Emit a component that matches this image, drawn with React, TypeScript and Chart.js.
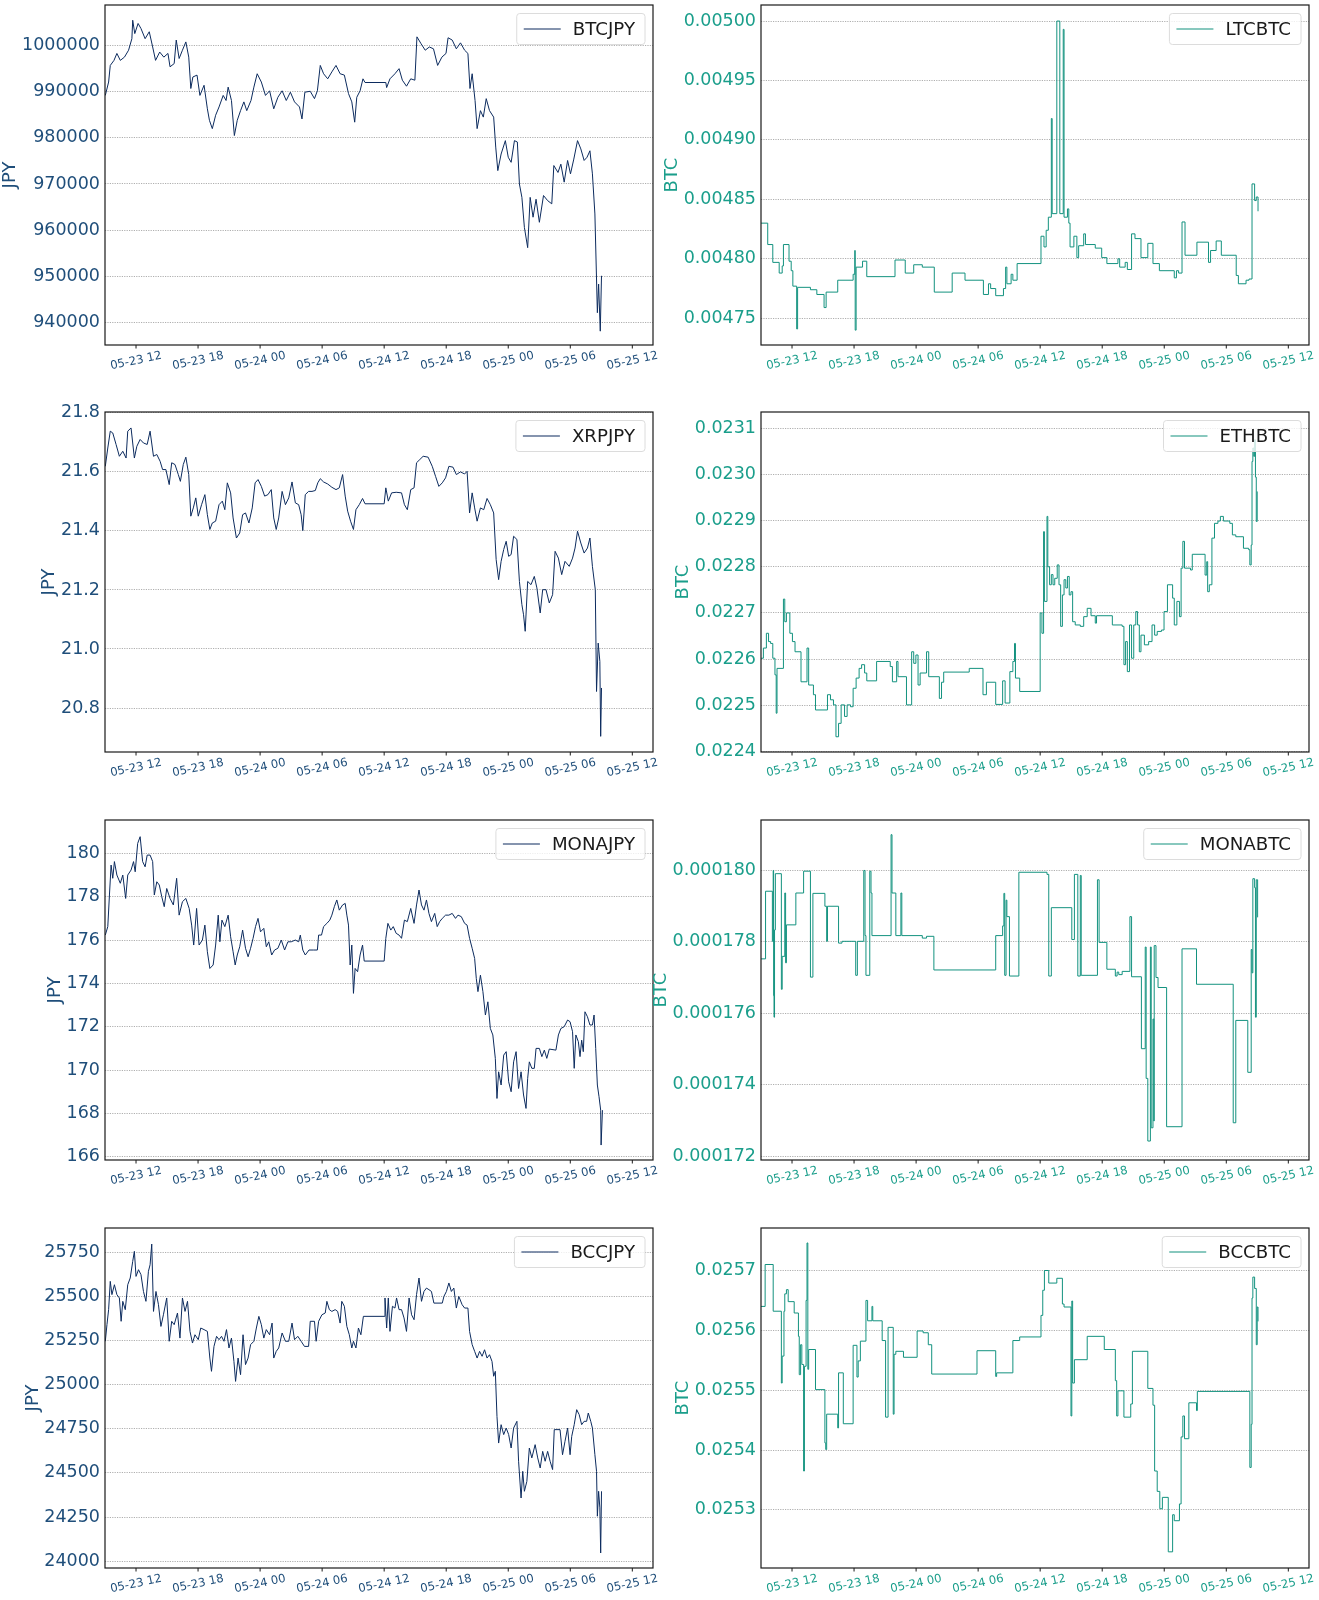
import React, { useEffect, useRef } from "react";
import { Chart, registerables } from "chart.js";

Chart.register(...registerables);

// ---------- shared x axis (hours since 05-23 00:00) ----------
const xTickHours = [12, 18, 24, 30, 36, 42, 48, 54, 60];
const xTickLabels = ["05-23 12", "05-23 18", "05-24 00", "05-24 06", "05-24 12", "05-24 18", "05-25 00", "05-25 06", "05-25 12"];

// ---------- BTCJPY ----------
const btcjpyTime = [9.03,9.35,9.51,9.87,10.15,10.48,10.88,11.28,11.60,11.68,11.88,12.20,12.48,12.88,13.28,13.61,13.89,14.29,14.69,15.09,15.29,15.69,15.89,16.17,16.49,16.82,17.10,17.30,17.50,17.90,18.18,18.58,18.90,19.10,19.38,19.70,20.03,20.43,20.71,20.91,21.23,21.51,21.79,22.11,22.43,22.71,23.12,23.40,23.72,24.12,24.52,24.92,25.32,25.72,26.13,26.53,26.93,27.33,27.81,28.05,28.33,28.85,29.26,29.54,29.82,30.14,30.54,30.94,31.34,31.74,32.15,32.55,32.87,33.15,33.35,33.67,33.95,34.15,36.16,36.24,36.56,37.04,37.44,37.76,38.16,38.57,38.97,39.17,39.57,39.97,40.37,40.77,41.17,41.58,41.98,42.18,42.58,42.98,43.38,43.78,44.10,44.30,44.51,44.79,44.99,45.31,45.59,45.87,46.19,46.59,46.79,46.99,47.31,47.72,48.00,48.28,48.60,48.88,49.08,49.32,49.56,49.88,50.12,50.40,50.69,51.01,51.41,51.81,52.21,52.41,52.81,53.09,53.41,53.74,54.02,54.34,54.70,55.02,55.34,55.62,55.90,56.14,56.38,56.62,56.74,56.90,57.02];
const btcjpyValue = [989200,992100,995700,996800,998300,996800,997500,999000,1001500,1005500,1002600,1004800,1003700,1001500,1003000,999700,996800,998600,997500,998300,995400,996100,1001200,997200,999000,1000800,997500,990700,993200,993600,989200,991400,986300,983800,982000,984900,986700,989200,988100,991000,988100,980500,983800,985900,987800,985900,988100,991000,993900,992100,989200,990200,986300,988800,990200,988100,989900,987800,986700,984100,989900,990100,988500,990200,995700,993900,992800,994300,995700,993900,993600,989600,987800,983400,988800,990200,992800,992000,992000,990900,992800,993900,995000,992500,991200,992800,992500,1001900,1000400,999000,999700,999300,995700,997500,998300,1001700,1001200,999300,1000600,999000,998300,990700,993900,988100,982000,985900,984500,988500,985900,984500,978000,972900,976500,979400,975800,974700,979400,979100,970000,967100,960600,956200,967100,962800,966700,961700,967500,966400,965700,974000,972500,974300,970400,975100,972200,975400,979400,977600,975100,975800,977200,972200,963500,942100,948300,938100,950100];
const btcjpyTicks = [940000, 950000, 960000, 970000, 980000, 990000, 1000000];
const btcjpyTickLabels = ["940000", "950000", "960000", "970000", "980000", "990000", "1000000"];

// ---------- LTCBTC ----------
const ltcbtcTime = [9.00,9.65,10.14,10.76,11.05,11.17,11.71,11.92,12.08,12.45,12.54,13.78,14.40,15.10,15.30,16.42,17.91,18.07,18.11,18.20,18.82,19.23,21.96,22.95,23.77,24.60,25.76,27.49,28.73,30.51,31.00,31.21,31.70,32.45,32.66,32.78,33.19,33.36,33.77,36.08,36.37,36.58,36.79,37.08,37.16,37.61,37.90,38.23,38.31,38.64,38.77,38.89,39.26,39.55,39.72,40.21,40.38,41.33,41.95,42.45,43.52,43.69,44.22,44.43,44.84,45.17,45.75,46.41,46.91,47.53,48.97,49.18,49.39,49.72,50.01,51.16,52.28,52.48,53.02,53.52,54.96,55.17,55.91,56.20,56.49,56.74,56.90,57.07];
const ltcbtcValue = [0.004830,0.004812,0.004797,0.004788,0.004794,0.004812,0.004798,0.004790,0.004777,0.004741,0.004776,0.004774,0.004770,0.004759,0.004772,0.004782,0.004787,0.004807,0.004740,0.004793,0.004798,0.004785,0.004799,0.004788,0.004795,0.004793,0.004772,0.004788,0.004782,0.004770,0.004779,0.004775,0.004769,0.004775,0.004793,0.004779,0.004787,0.004782,0.004796,0.004819,0.004810,0.004824,0.004835,0.004918,0.004838,0.005000,0.004838,0.004993,0.004835,0.004842,0.004830,0.004810,0.004819,0.004801,0.004811,0.004821,0.004812,0.004809,0.004801,0.004796,0.004800,0.004793,0.004797,0.004791,0.004821,0.004817,0.004801,0.004813,0.004796,0.004790,0.004784,0.004790,0.004788,0.004831,0.004803,0.004814,0.004797,0.004807,0.004815,0.004803,0.004786,0.004779,0.004782,0.004783,0.004863,0.004849,0.004852,0.004840];
const ltcbtcTicks = [0.00475, 0.0048, 0.00485, 0.0049, 0.00495, 0.005];
const ltcbtcTickLabels = ["0.00475", "0.00480", "0.00485", "0.00490", "0.00495", "0.00500"];

// ---------- XRPJPY ----------
const xrpjpyTime = [9.03,9.27,9.51,9.75,10.07,10.39,10.72,11.04,11.20,11.52,11.84,12.08,12.40,12.72,13.08,13.36,13.69,14.01,14.33,14.57,14.89,15.21,15.45,15.77,16.09,16.29,16.57,16.82,17.10,17.30,17.54,17.78,18.02,18.34,18.66,18.90,19.14,19.38,19.70,20.03,20.35,20.59,20.83,21.15,21.39,21.71,22.03,22.31,22.59,22.92,23.24,23.52,23.80,24.12,24.44,24.76,25.08,25.32,25.56,25.80,26.13,26.45,26.77,27.09,27.41,27.73,27.97,28.13,28.37,28.69,29.02,29.34,29.58,29.82,30.14,30.54,30.94,31.34,31.66,31.98,32.23,32.47,32.75,33.03,33.27,33.59,33.91,34.15,36.00,36.16,36.40,36.72,37.16,37.68,37.96,38.24,38.57,38.89,39.13,39.45,39.77,40.25,40.65,40.97,41.29,41.62,41.94,42.26,42.66,42.98,43.38,43.78,44.02,44.26,44.51,44.75,44.99,45.31,45.63,45.95,46.27,46.59,46.83,47.07,47.31,47.56,47.80,48.04,48.28,48.52,48.84,49.08,49.32,49.48,49.64,49.88,50.20,50.52,50.77,51.09,51.33,51.65,51.97,52.29,52.53,52.85,53.17,53.49,53.90,54.22,54.46,54.70,55.02,55.34,55.66,55.90,56.14,56.42,56.54,56.70,56.86,56.94,57.02];
const xrpjpyValue = [21.619,21.681,21.738,21.732,21.693,21.653,21.670,21.647,21.738,21.749,21.647,21.687,21.710,21.698,21.693,21.738,21.653,21.659,21.636,21.608,21.608,21.557,21.631,21.625,21.591,21.568,21.625,21.650,21.591,21.450,21.478,21.512,21.450,21.489,21.523,21.455,21.405,21.427,21.433,21.489,21.501,21.472,21.563,21.529,21.444,21.376,21.393,21.455,21.461,21.427,21.478,21.563,21.574,21.551,21.518,21.523,21.540,21.444,21.405,21.444,21.534,21.489,21.512,21.566,21.495,21.489,21.455,21.401,21.523,21.534,21.534,21.537,21.563,21.577,21.566,21.559,21.548,21.540,21.546,21.591,21.518,21.467,21.433,21.405,21.472,21.489,21.510,21.492,21.492,21.546,21.501,21.529,21.531,21.529,21.489,21.472,21.540,21.546,21.631,21.642,21.653,21.650,21.619,21.585,21.551,21.563,21.580,21.619,21.616,21.591,21.600,21.593,21.602,21.461,21.529,21.478,21.433,21.478,21.472,21.510,21.489,21.461,21.303,21.235,21.297,21.337,21.365,21.314,21.320,21.382,21.371,21.229,21.150,21.116,21.060,21.229,21.218,21.246,21.207,21.122,21.201,21.201,21.156,21.184,21.331,21.308,21.252,21.297,21.280,21.308,21.342,21.399,21.359,21.325,21.342,21.376,21.280,21.201,20.856,21.020,20.958,20.704,20.868];
const xrpjpyTicks = [20.8, 21.0, 21.2, 21.4, 21.6, 21.8];
const xrpjpyTickLabels = ["20.8", "21.0", "21.2", "21.4", "21.6", "21.8"];

// ---------- ETHBTC ----------
const ethbtcTime = [9.00,9.23,9.52,9.73,9.93,10.14,10.35,10.47,10.55,11.17,11.30,11.46,11.79,12.04,12.29,12.87,13.45,13.61,14.07,14.27,15.43,15.72,16.01,16.25,16.50,16.75,17.08,17.33,17.66,17.91,18.20,18.49,18.73,19.02,19.23,20.18,21.50,21.71,22.12,22.25,23.07,23.57,23.77,23.98,24.19,24.39,25.01,25.22,26.25,26.46,26.67,29.14,30.47,30.80,31.70,32.37,32.61,33.07,33.36,33.52,33.61,34.02,36.00,36.17,36.33,36.41,36.66,36.74,36.91,37.08,37.24,37.41,37.65,37.82,37.98,38.15,38.31,38.48,38.64,38.81,38.98,39.14,39.39,39.88,40.21,40.55,40.92,41.33,41.45,42.98,43.93,44.10,44.26,44.43,44.64,44.84,45.05,45.25,45.42,45.59,45.75,46.08,46.49,46.82,47.07,47.32,47.73,47.98,48.31,48.81,48.97,49.22,49.47,49.63,49.80,49.96,50.54,50.71,51.95,52.11,52.20,52.36,52.61,52.86,53.19,53.43,53.72,54.34,54.59,54.92,55.66,56.16,56.28,56.41,56.49,56.57,56.66,56.74,56.82,56.90,56.99];
const ethbtcValue = [0.022602,0.022624,0.022656,0.022638,0.022634,0.022602,0.022566,0.022483,0.022580,0.022730,0.022681,0.022700,0.022656,0.022638,0.022616,0.022551,0.022624,0.022544,0.022523,0.022490,0.022523,0.022512,0.022501,0.022432,0.022461,0.022501,0.022476,0.022501,0.022497,0.022537,0.022559,0.022580,0.022588,0.022570,0.022553,0.022595,0.022584,0.022551,0.022595,0.022562,0.022501,0.022616,0.022591,0.022609,0.022544,0.022570,0.022616,0.022562,0.022515,0.022550,0.022572,0.022580,0.022523,0.022550,0.022502,0.022553,0.022505,0.022573,0.022595,0.022634,0.022559,0.022530,0.022700,0.022656,0.022876,0.022725,0.022909,0.022800,0.022761,0.022783,0.022761,0.022775,0.022804,0.022761,0.022671,0.022739,0.022772,0.022754,0.022779,0.022739,0.022746,0.022681,0.022674,0.022671,0.022692,0.022710,0.022694,0.022678,0.022694,0.022674,0.022671,0.022588,0.022638,0.022573,0.022674,0.022602,0.022674,0.022703,0.022674,0.022616,0.022652,0.022631,0.022638,0.022674,0.022652,0.022660,0.022663,0.022703,0.022761,0.022732,0.022674,0.022725,0.022692,0.022797,0.022855,0.022797,0.022793,0.022827,0.022782,0.022811,0.022746,0.022761,0.022862,0.022894,0.022899,0.022909,0.022899,0.022894,0.022869,0.022865,0.022840,0.022837,0.022804,0.022847,0.023028,0.023057,0.023039,0.023075,0.022994,0.022898,0.022963];
const ethbtcTicks = [0.0224, 0.0225, 0.0226, 0.0227, 0.0228, 0.0229, 0.023, 0.0231];
const ethbtcTickLabels = ["0.0224", "0.0225", "0.0226", "0.0227", "0.0228", "0.0229", "0.0230", "0.0231"];

// ---------- MONAJPY ----------
const monajpyTime = [9.03,9.27,9.43,9.59,9.75,9.91,10.15,10.48,10.72,11.00,11.20,11.52,11.76,11.92,12.16,12.40,12.64,12.88,13.08,13.36,13.61,13.77,14.01,14.25,14.49,14.73,14.97,15.29,15.61,15.93,16.17,16.49,16.82,17.14,17.38,17.58,17.86,18.10,18.42,18.66,18.90,19.14,19.46,19.70,19.95,20.11,20.31,20.59,20.91,21.15,21.39,21.59,21.79,22.03,22.31,22.59,22.84,23.08,23.32,23.56,23.80,24.04,24.36,24.60,24.84,25.12,25.40,25.72,26.05,26.37,26.69,27.01,27.41,27.73,27.89,28.13,28.37,28.73,29.14,29.54,29.66,29.94,30.14,30.46,30.74,30.94,31.18,31.42,31.66,31.98,32.23,32.39,32.55,32.71,32.87,33.03,33.19,33.43,33.67,33.91,34.07,36.00,36.16,36.36,36.64,36.88,37.16,37.44,37.68,37.96,38.24,38.57,38.89,39.13,39.37,39.61,39.85,40.09,40.33,40.57,40.89,41.13,41.37,41.62,41.94,42.26,42.58,42.90,43.14,43.46,43.78,44.02,44.26,44.51,44.75,44.91,45.07,45.31,45.55,45.79,46.03,46.27,46.51,46.75,46.91,47.07,47.31,47.56,47.80,48.04,48.28,48.52,48.76,49.00,49.24,49.48,49.72,49.88,50.04,50.28,50.52,50.69,51.01,51.25,51.49,51.73,51.97,52.61,52.85,53.09,53.41,53.74,53.98,54.22,54.38,54.54,54.78,54.94,55.10,55.26,55.42,55.66,55.90,56.14,56.30,56.46,56.62,56.78,56.94,56.98,57.11];
const monajpyValue = [176.23,176.62,178.08,179.46,178.85,179.62,179.00,178.62,179.00,177.92,179.00,179.23,179.62,179.15,180.46,180.77,179.62,179.38,179.92,179.92,179.62,178.08,178.69,178.54,178.00,177.54,178.38,177.92,177.62,178.85,177.15,177.77,177.92,177.46,176.69,175.77,177.46,175.77,176.00,176.69,175.46,174.69,174.85,175.77,177.15,175.92,176.92,176.62,177.15,176.15,175.46,174.85,175.31,175.69,176.46,175.62,175.23,175.62,176.08,176.62,177.00,176.38,176.54,175.69,175.92,175.31,175.54,175.62,176.00,175.54,175.92,175.92,176.00,175.92,176.23,175.54,175.31,175.54,175.54,175.54,176.23,176.23,176.62,176.77,176.92,177.15,177.54,177.85,177.38,177.62,177.69,177.15,176.69,174.85,175.77,173.54,174.69,174.54,175.31,175.77,175.03,175.03,176.08,176.77,176.46,176.62,176.31,176.23,176.08,176.92,176.85,177.46,176.77,177.62,178.31,177.62,177.38,177.85,177.23,176.85,177.23,176.62,176.85,177.00,177.15,177.15,177.23,177.00,177.15,177.08,176.77,176.69,176.08,175.62,175.15,174.23,173.62,174.38,173.62,172.54,173.15,171.92,171.62,170.54,168.69,169.92,169.31,170.69,170.85,169.46,169.00,170.38,170.85,169.15,169.92,168.85,168.23,169.62,170.38,170.08,170.08,171.00,171.00,170.62,170.92,170.54,170.97,170.92,171.62,171.92,172.00,172.31,172.23,171.77,170.08,171.62,171.31,170.62,171.38,170.85,172.69,172.46,172.08,172.08,172.54,171.00,169.31,168.77,168.15,166.54,168.15];
const monajpyTicks = [166, 168, 170, 172, 174, 176, 178, 180];
const monajpyTickLabels = ["166", "168", "170", "172", "174", "176", "178", "180"];

// ---------- MONABTC ----------
const monabtcTime = [9.00,9.44,10.10,10.18,10.22,10.26,10.31,10.39,10.97,11.05,11.30,11.38,11.46,12.37,13.12,13.78,14.02,15.18,15.35,15.43,16.50,16.83,18.16,18.32,18.94,19.06,19.15,19.52,19.64,19.73,21.58,21.67,22.04,22.53,22.62,24.60,25.01,25.72,31.70,32.37,32.49,32.57,32.70,32.78,33.03,33.94,36.66,36.83,37.08,39.06,39.31,39.64,39.88,39.97,41.54,41.70,42.45,43.27,43.44,43.60,43.93,44.68,44.84,45.79,46.16,46.25,46.41,46.66,46.74,46.91,46.99,47.03,47.20,47.40,48.23,49.72,51.12,54.67,54.92,56.08,56.41,56.49,56.57,56.74,56.82,56.90,57.03];
const monabtcValue = [0.00017752,0.00017941,0.00017801,0.00017999,0.00017649,0.00017589,0.00017833,0.00017990,0.00017667,0.00017759,0.00017936,0.00017741,0.00017847,0.00017936,0.00017997,0.00017701,0.00017935,0.00017899,0.00017801,0.00017899,0.00017796,0.00017801,0.00017706,0.00017801,0.00017999,0.00017817,0.00017706,0.00017997,0.00017936,0.00017817,0.00018099,0.00017936,0.00017817,0.00017936,0.00017817,0.00017810,0.00017815,0.00017721,0.00017817,0.00017844,0.00017935,0.00017706,0.00017916,0.00017870,0.00017704,0.00017994,0.00017988,0.00017704,0.00017895,0.00017806,0.00017988,0.00017704,0.00017985,0.00017706,0.00017973,0.00017798,0.00017723,0.00017704,0.00017715,0.00017708,0.00017717,0.00017870,0.00017702,0.00017501,0.00017785,0.00017418,0.00017243,0.00017785,0.00017280,0.00017584,0.00017299,0.00017789,0.00017700,0.00017672,0.00017283,0.00017780,0.00017681,0.00017294,0.00017580,0.00017435,0.00017778,0.00017713,0.00017976,0.00017951,0.00017589,0.00017973,0.00017868];
const monabtcTicks = [0.000172, 0.000174, 0.000176, 0.000178, 0.00018];
const monabtcTickLabels = ["0.000172", "0.000174", "0.000176", "0.000178", "0.000180"];

// ---------- BCCJPY ----------
const bccjpyTime = [9.03,9.19,9.35,9.51,9.67,9.91,10.15,10.39,10.56,10.72,10.96,11.20,11.44,11.68,11.84,12.00,12.24,12.48,12.72,12.96,13.20,13.36,13.52,13.69,13.93,14.17,14.41,14.65,14.97,15.21,15.45,15.69,16.01,16.25,16.49,16.74,16.98,17.22,17.46,17.70,18.02,18.26,18.58,18.90,19.14,19.30,19.54,19.79,20.03,20.27,20.51,20.75,20.99,21.23,21.47,21.63,21.87,22.11,22.35,22.59,22.84,23.08,23.40,23.64,23.88,24.12,24.36,24.60,24.92,25.16,25.32,25.56,25.80,26.13,26.45,26.77,27.09,27.33,27.65,27.97,28.29,28.69,28.85,29.26,29.42,29.66,29.98,30.30,30.46,30.70,30.94,31.26,31.50,31.74,31.90,32.15,32.39,32.63,32.87,33.03,33.27,33.51,33.75,33.99,36.00,36.08,36.24,36.40,36.56,36.80,37.04,37.20,37.44,37.68,37.92,38.16,38.41,38.65,38.89,39.13,39.37,39.61,39.85,40.09,40.33,40.57,40.81,41.62,41.78,42.02,42.26,42.50,42.74,42.98,43.22,43.54,43.78,44.10,44.26,44.51,44.75,44.99,45.23,45.47,45.71,45.95,46.19,46.43,46.59,46.75,46.91,47.07,47.31,47.56,47.80,48.04,48.28,48.52,48.84,49.00,49.24,49.40,49.56,49.80,50.04,50.28,50.60,50.85,51.09,51.33,51.57,51.81,52.05,52.29,52.45,53.01,53.25,53.49,53.74,53.98,54.14,54.38,54.62,54.86,55.10,55.34,55.58,55.74,55.98,56.14,56.38,56.54,56.62,56.74,56.86,56.94,57.02];
const bccjpyValue = [25245,25339,25424,25584,25509,25565,25509,25490,25358,25471,25424,25565,25603,25697,25754,25612,25650,25622,25527,25471,25641,25678,25795,25414,25527,25452,25329,25395,25490,25245,25358,25339,25405,25263,25490,25414,25471,25301,25235,25282,25254,25320,25311,25301,25150,25075,25216,25273,25254,25273,25245,25311,25207,25263,25131,25018,25150,25056,25282,25113,25150,25226,25245,25320,25386,25339,25263,25311,25282,25348,25150,25188,25207,25292,25245,25245,25348,25254,25273,25245,25216,25216,25358,25358,25245,25358,25395,25405,25471,25424,25414,25424,25414,25348,25471,25443,25329,25282,25207,25245,25207,25320,25282,25386,25386,25490,25320,25490,25301,25443,25433,25490,25424,25424,25377,25301,25490,25395,25367,25509,25603,25471,25527,25546,25537,25527,25461,25461,25499,25527,25575,25527,25546,25433,25499,25452,25433,25433,25301,25226,25188,25150,25188,25160,25197,25150,25169,25131,25047,25075,24820,24669,24773,24717,24754,24717,24641,24754,24792,24566,24358,24509,24396,24452,24641,24585,24660,24585,24528,24622,24566,24622,24566,24519,24745,24745,24603,24679,24754,24603,24707,24773,24858,24830,24773,24792,24792,24839,24792,24754,24603,24509,24255,24396,24302,24047,24396];
const bccjpyTicks = [24000, 24250, 24500, 24750, 25000, 25250, 25500, 25750];
const bccjpyTickLabels = ["24000", "24250", "24500", "24750", "25000", "25250", "25500", "25750"];

// ---------- BCCBTC ----------
const bccbtcTime = [9.00,9.40,10.18,10.97,11.05,11.22,11.30,11.46,11.63,12.21,12.62,12.70,12.83,12.95,13.12,13.20,13.36,13.45,13.53,13.61,14.27,15.18,15.26,15.35,16.42,16.50,16.96,17.91,18.28,18.40,18.61,19.15,19.31,19.73,19.81,20.72,21.05,21.29,21.79,21.87,22.04,22.78,24.10,24.68,25.18,25.51,29.89,31.70,31.79,33.36,34.02,36.08,36.25,36.41,36.83,37.61,38.15,38.31,38.98,39.06,39.14,39.31,40.55,42.20,43.27,43.40,43.52,44.10,44.76,44.92,46.41,46.91,47.07,47.32,47.57,47.82,48.39,48.81,48.97,49.47,49.63,49.80,49.96,50.38,51.12,51.20,56.28,56.41,56.49,56.57,56.74,56.90,56.99,57.07];
const bccbtcValue = [0.025640,0.025710,0.025632,0.025512,0.025557,0.025632,0.025661,0.025668,0.025648,0.025629,0.025590,0.025526,0.025576,0.025543,0.025365,0.025540,0.025650,0.025746,0.025535,0.025568,0.025501,0.025412,0.025401,0.025460,0.025437,0.025529,0.025444,0.025575,0.025522,0.025549,0.025582,0.025650,0.025616,0.025640,0.025616,0.025583,0.025455,0.025605,0.025460,0.025560,0.025565,0.025555,0.025599,0.025596,0.025576,0.025527,0.025566,0.025523,0.025529,0.025583,0.025589,0.025625,0.025667,0.025700,0.025679,0.025687,0.025644,0.025639,0.025457,0.025649,0.025512,0.025551,0.025590,0.025568,0.025516,0.025457,0.025499,0.025455,0.025477,0.025565,0.025503,0.025475,0.025365,0.025331,0.025302,0.025321,0.025230,0.025292,0.025282,0.025310,0.025422,0.025457,0.025419,0.025479,0.025466,0.025498,0.025371,0.025443,0.025654,0.025689,0.025670,0.025576,0.025639,0.025615];
const bccbtcTicks = [0.0253, 0.0254, 0.0255, 0.0256, 0.0257];
const bccbtcTickLabels = ["0.0253", "0.0254", "0.0255", "0.0256", "0.0257"];

// ---------- styling ----------
const FONT = '"DejaVu Sans", sans-serif';
const LEFT_LINE = "#0c2b5e";
const LEFT_TEXT = "#1f4e7a";
const RIGHT_LINE = "#13927f";
const RIGHT_TEXT = "#1a9e8b";

type Panel = {
  name: string; unit: string; side: "L" | "R"; row: number;
  time: number[]; value: number[]; stepped: boolean;
  min: number; max: number; ticks: number[]; tickLabels: string[];
};

const panels: Panel[] = [
  { name: "BTCJPY", unit: "JPY", side: "L", row: 0, time: btcjpyTime, value: btcjpyValue, stepped: false, min: 935100, max: 1008800, ticks: btcjpyTicks, tickLabels: btcjpyTickLabels },
  { name: "LTCBTC", unit: "BTC", side: "R", row: 0, time: ltcbtcTime, value: ltcbtcValue, stepped: true, min: 0.0047275, max: 0.0050135, ticks: ltcbtcTicks, tickLabels: ltcbtcTickLabels },
  { name: "XRPJPY", unit: "JPY", side: "L", row: 1, time: xrpjpyTime, value: xrpjpyValue, stepped: false, min: 20.651, max: 21.803, ticks: xrpjpyTicks, tickLabels: xrpjpyTickLabels },
  { name: "ETHBTC", unit: "BTC", side: "R", row: 1, time: ethbtcTime, value: ethbtcValue, stepped: true, min: 0.022399, max: 0.023135, ticks: ethbtcTicks, tickLabels: ethbtcTickLabels },
  { name: "MONAJPY", unit: "JPY", side: "L", row: 2, time: monajpyTime, value: monajpyValue, stepped: false, min: 165.85, max: 181.54, ticks: monajpyTicks, tickLabels: monajpyTickLabels },
  { name: "MONABTC", unit: "BTC", side: "R", row: 2, time: monabtcTime, value: monabtcValue, stepped: true, min: 0.0001719, max: 0.0001814, ticks: monabtcTicks, tickLabels: monabtcTickLabels },
  { name: "BCCJPY", unit: "JPY", side: "L", row: 3, time: bccjpyTime, value: bccjpyValue, stepped: false, min: 23962, max: 25886, ticks: bccjpyTicks, tickLabels: bccjpyTickLabels },
  { name: "BCCBTC", unit: "BTC", side: "R", row: 3, time: bccbtcTime, value: bccbtcValue, stepped: true, min: 0.025203, max: 0.025771, ticks: bccbtcTicks, tickLabels: bccbtcTickLabels },
];

const ROW_TOPS = [5, 412, 820, 1228];
const PLOT_H = 340;
const PAD_TOP = 20;
const X_AXIS_H = 50;
const CANVAS_H = PAD_TOP + PLOT_H + X_AXIS_H;
const GEOM = {
  L: { left: 0, width: 660, axisW: 105, padRight: 7 },
  R: { left: 630, width: 689, axisW: 131, padRight: 10 },
};
const Y_FONT = 17.5;
const X_FONT = 11.6;
const LEGEND_FONT = 18.2;
const TITLE_FONT = 18;

const decorPlugin = {
  id: "decor",
  afterDraw(chart: any, _args: any, opts: any) {
    const { ctx, chartArea: a } = chart;
    const xs = chart.scales.x;
    ctx.save();
    // frame
    ctx.strokeStyle = "#1a1a1a";
    ctx.lineWidth = 1.2;
    ctx.strokeRect(a.left, a.top, a.right - a.left, a.bottom - a.top);
    // x ticks + rotated labels
    ctx.lineWidth = 1;
    ctx.fillStyle = opts.textColor;
    ctx.font = `${X_FONT}px ${FONT}`;
    xTickHours.forEach((h: number, i: number) => {
      const px = xs.getPixelForValue(h);
      ctx.strokeStyle = "#1a1a1a";
      ctx.beginPath();
      ctx.moveTo(px, a.bottom);
      ctx.lineTo(px, a.bottom + 3.5);
      ctx.stroke();
      ctx.save();
      ctx.translate(px, a.bottom + 16);
      ctx.rotate((-12 * Math.PI) / 180);
      ctx.textAlign = "center";
      ctx.textBaseline = "middle";
      ctx.fillText(xTickLabels[i], 0, 0);
      ctx.restore();
    });
    // y title
    ctx.font = `${Y_FONT}px ${FONT}`;
    let maxW = 0;
    opts.tickLabels.forEach((t: string) => { maxW = Math.max(maxW, ctx.measureText(t).width); });
    const tx = a.left - 5 - maxW - 11.5;
    ctx.save();
    ctx.font = `${TITLE_FONT}px ${FONT}`;
    ctx.translate(tx, (a.top + a.bottom) / 2);
    ctx.rotate(-Math.PI / 2);
    ctx.textAlign = "center";
    ctx.textBaseline = "middle";
    ctx.fillStyle = opts.textColor;
    ctx.fillText(opts.unit, 0, 0);
    ctx.restore();
    // legend
    ctx.font = `${LEGEND_FONT}px ${FONT}`;
    const tw = ctx.measureText(opts.name).width;
    const bw = 7 + 37 + 12 + tw + 10;
    const bh = 31;
    const bx = a.right - 8 - bw;
    const by = a.top + 8.5;
    ctx.beginPath();
    const r = 3;
    ctx.moveTo(bx + r, by);
    ctx.lineTo(bx + bw - r, by);
    ctx.quadraticCurveTo(bx + bw, by, bx + bw, by + r);
    ctx.lineTo(bx + bw, by + bh - r);
    ctx.quadraticCurveTo(bx + bw, by + bh, bx + bw - r, by + bh);
    ctx.lineTo(bx + r, by + bh);
    ctx.quadraticCurveTo(bx, by + bh, bx, by + bh - r);
    ctx.lineTo(bx, by + r);
    ctx.quadraticCurveTo(bx, by, bx + r, by);
    ctx.closePath();
    ctx.fillStyle = "rgba(255,255,255,0.8)";
    ctx.fill();
    ctx.strokeStyle = "#dcdcdc";
    ctx.lineWidth = 1;
    ctx.stroke();
    ctx.strokeStyle = opts.lineColor;
    ctx.lineWidth = 1.2;
    ctx.beginPath();
    ctx.moveTo(bx + 7, by + bh / 2);
    ctx.lineTo(bx + 44, by + bh / 2);
    ctx.stroke();
    ctx.fillStyle = "#1a1a1a";
    ctx.textAlign = "left";
    ctx.textBaseline = "middle";
    ctx.fillText(opts.name, bx + 56, by + bh / 2 + 1);
    ctx.restore();
  },
};

function PanelChart({ p }: { p: Panel }) {
  const ref = useRef<HTMLCanvasElement | null>(null);
  const g = GEOM[p.side];
  const lineColor = p.side === "L" ? LEFT_LINE : RIGHT_LINE;
  const textColor = p.side === "L" ? LEFT_TEXT : RIGHT_TEXT;
  useEffect(() => {
    if (!ref.current) return;
    const points = p.time.map((t, i) => ({ x: t, y: p.value[i] }));
    const chart = new Chart(ref.current, {
      type: "line",
      data: {
        datasets: [{
          data: points,
          borderColor: lineColor,
          borderWidth: 1,
          pointRadius: 0,
          tension: 0,
          fill: false,
          stepped: p.stepped ? "before" : false,
        } as any],
      },
      options: {
        animation: false,
        responsive: false,
        maintainAspectRatio: false,
        events: [],
        layout: { padding: { top: PAD_TOP, right: g.padRight, left: 0, bottom: 0 } },
        plugins: {
          legend: { display: false },
          tooltip: { enabled: false },
          decor: { name: p.name, unit: p.unit, tickLabels: p.tickLabels, textColor, lineColor },
        } as any,
        scales: {
          x: {
            type: "linear",
            min: 9,
            max: 62,
            grid: { display: false },
            border: { display: false },
            ticks: { display: false },
            afterBuildTicks: (s: any) => { s.ticks = xTickHours.map((v) => ({ value: v })); },
            afterFit: (s: any) => { s.height = X_AXIS_H; },
          },
          y: {
            type: "linear",
            min: p.min,
            max: p.max,
            grid: { color: "#9a9a9a", lineWidth: 0.8, drawTicks: false },
            border: { display: false, dash: [1.2, 1.2] },
            ticks: {
              color: textColor,
              font: { family: FONT, size: Y_FONT },
              padding: 5,
              callback: (_v: any, i: number) => p.tickLabels[i],
            },
            afterBuildTicks: (s: any) => { s.ticks = p.ticks.map((v) => ({ value: v })); },
            afterFit: (s: any) => { s.width = g.axisW; },
          },
        },
      } as any,
      plugins: [decorPlugin],
    });
    return () => chart.destroy();
  }, [p]);
  return (
    <canvas
      ref={ref}
      width={g.width}
      height={CANVAS_H}
      style={{
        position: "absolute",
        left: g.left,
        top: ROW_TOPS[p.row] - PAD_TOP,
        width: g.width,
        height: CANVAS_H,
      }}
    />
  );
}

export default function App() {
  return (
    <div style={{ position: "absolute", left: 0, top: 0, width: 1319, height: 1600, background: "#fff", overflow: "hidden" }}>
      {panels.map((p) => (
        <PanelChart key={p.name} p={p} />
      ))}
    </div>
  );
}
